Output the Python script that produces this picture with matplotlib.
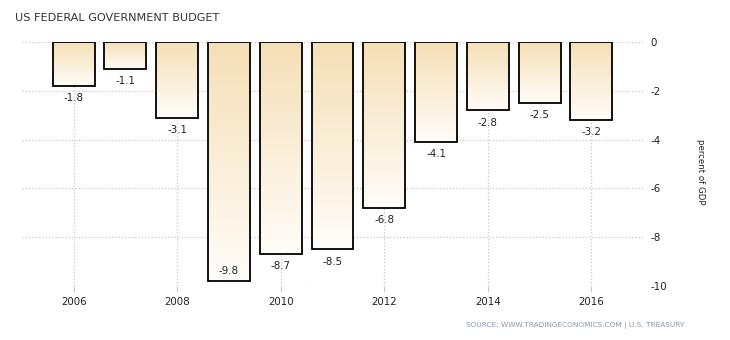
import numpy as np
import matplotlib.pyplot as plt
from matplotlib.colors import LinearSegmentedColormap

plt.rcParams['axes.unicode_minus'] = False

years = [2006, 2007, 2008, 2009, 2010, 2011, 2012, 2013, 2014, 2015, 2016]
budget = [-1.8, -1.1, -3.1, -9.8, -8.7, -8.5, -6.8, -4.1, -2.8, -2.5, -3.2]
xticks = [2006, 2008, 2010, 2012, 2014, 2016]
yticks = [0, -2, -4, -6, -8, -10]

fig = plt.figure(figsize=(7.3, 3.4), dpi=100)
ax = fig.add_axes([0.030, 0.159, 0.851, 0.717])

cmap = LinearSegmentedColormap.from_list('wheat', ['#fffdf9', '#f5dfb6'])
grad = np.linspace(0, 1, 256).reshape(-1, 1)

bars = ax.bar(years, budget, width=0.81, facecolor='none', edgecolor='black',
              linewidth=1.3, zorder=3)
for b, v in zip(bars, budget):
    x0 = b.get_x()
    im = ax.imshow(grad, cmap=cmap, aspect='auto', origin='lower',
                   extent=[x0, x0 + b.get_width(), v, 0], zorder=2)
    im.set_clip_path(b)
    xc = b.get_x() + b.get_width() / 2
    if v - 0.5 > -9.7:
        ax.text(xc, v - 0.5, '%.1f' % v, ha='center', va='center',
                fontsize=7.4, color='#222222', zorder=4)
    else:
        ax.text(xc, v + 0.4, '%.1f' % v, ha='center', va='center',
                fontsize=7.4, color='#222222', zorder=4)

ax.set_xlim(2005, 2017)
ax.set_ylim(-10, 0)
ax.set_xticks(xticks)
ax.set_yticks(yticks)
ax.grid(True, color='#c8c8c8', linestyle=':', linewidth=0.9, zorder=0)
ax.set_axisbelow(True)
for s in ax.spines.values():
    s.set_visible(False)
ax.yaxis.tick_right()
ax.tick_params(axis='y', length=0, pad=5, labelsize=7.4, labelcolor='#222222')
ax.tick_params(axis='x', length=4, color='#c8c8c8', pad=4, labelsize=7.4, labelcolor='#222222')
ax.yaxis.set_label_position('right')
ax.set_ylabel('percent of GDP', rotation=-90, fontsize=6.2, labelpad=26, color='#222222')
ax.yaxis.set_label_coords(1.10, 0.47)

fig.text(0.021, 0.948, 'US FEDERAL GOVERNMENT BUDGET', fontsize=8.1, color='#333333',
         ha='left', va='center')
fig.text(0.938, 0.044, 'SOURCE: WWW.TRADINGECONOMICS.COM | U.S. TREASURY', fontsize=5.3,
         color='#8a98aa', ha='right', va='center')

fig.savefig('out.png', dpi=100)
